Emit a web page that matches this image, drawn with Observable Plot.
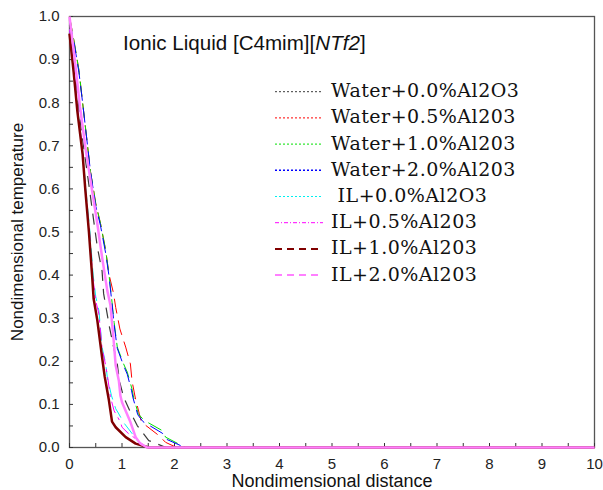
<!DOCTYPE html>
<html><head><meta charset="utf-8">
<script src="https://cdn.jsdelivr.net/npm/d3@7"></script>
<script src="https://cdn.jsdelivr.net/npm/@observablehq/plot@0.6"></script>
<style>
body{margin:0;background:#fff;}
#wrap{position:relative;width:603px;height:490px;}
#wrap svg{display:block;}
</style>
</head><body>
<div id="wrap"></div>
<script>
const seriesNames = ["Water+0.0%Al2O3","Water+0.5%Al203","Water+1.0%Al203","Water+2.0%Al203"," IL+0.0%Al2O3","IL+0.5%Al203","IL+1.0%Al203","IL+2.0%Al203"];

const water00X = [0, 0.08, 0.15, 0.22, 0.3, 0.38, 0.46, 0.53, 0.57, 0.62, 0.65, 0.76, 0.84, 0.91, 0.95, 1.03, 1.16, 1.29, 1.51, 1.84, 10];
const water00Y = [0.98, 0.9, 0.82, 0.74, 0.67, 0.6, 0.527, 0.465, 0.44, 0.41, 0.357, 0.28, 0.233, 0.194, 0.155, 0.117, 0.082, 0.051, 0.016, 0, 0];

const water05X = [0, 0.09, 0.18, 0.25, 0.4, 0.5, 0.59, 0.69, 0.75, 0.84, 0.88, 0.96, 1.07, 1.16, 1.19, 1.25, 1.33, 1.37, 1.7, 1.83, 2.04, 10];
const water05Y = [1.0, 0.94, 0.875, 0.8, 0.64, 0.566, 0.52, 0.457, 0.403, 0.357, 0.325, 0.275, 0.233, 0.194, 0.155, 0.117, 0.078, 0.059, 0.028, 0.012, 0, 0];

const water10X = [0, 0.09, 0.18, 0.25, 0.4, 0.5, 0.59, 0.69, 0.75, 0.8, 0.85, 0.91, 1.03, 1.1, 1.19, 1.22, 1.31, 1.42, 1.77, 1.83, 2.21, 10];
const water10Y = [1.0, 0.94, 0.875, 0.8, 0.64, 0.566, 0.52, 0.457, 0.403, 0.349, 0.29, 0.233, 0.194, 0.175, 0.136, 0.117, 0.078, 0.063, 0.039, 0.024, 0, 0];

const water20X = [0, 0.09, 0.18, 0.25, 0.4, 0.5, 0.59, 0.69, 0.75, 0.8, 0.85, 0.91, 1.03, 1.1, 1.18, 1.21, 1.3, 1.4, 1.77, 1.83, 2.2, 10];
const water20Y = [0.99, 0.937, 0.87, 0.8, 0.64, 0.56, 0.515, 0.45, 0.4, 0.345, 0.285, 0.23, 0.19, 0.17, 0.133, 0.115, 0.076, 0.06, 0.033, 0.02, 0, 0];

const il00X = [0, 0.08, 0.15, 0.25, 0.31, 0.39, 0.45, 0.5, 0.56, 0.62, 0.69, 0.72, 0.8, 0.88, 0.93, 1.03, 1.22, 1.3, 1.45, 10];
const il00Y = [0.97, 0.88, 0.79, 0.69, 0.6, 0.5, 0.4, 0.35, 0.318, 0.233, 0.194, 0.163, 0.12, 0.09, 0.08, 0.058, 0.028, 0.015, 0, 0];

const il05X = [0, 0.08, 0.15, 0.25, 0.3, 0.38, 0.44, 0.5, 0.56, 0.62, 0.69, 0.73, 0.78, 0.85, 0.97, 1.0, 1.16, 1.22, 1.42, 1.5, 10];
const il05Y = [0.97, 0.88, 0.79, 0.69, 0.6, 0.5, 0.4, 0.34, 0.31, 0.23, 0.19, 0.16, 0.117, 0.085, 0.059, 0.047, 0.028, 0.024, 0.005, 0, 0];

const il10X = [0, 0.08, 0.15, 0.25, 0.3, 0.37, 0.43, 0.46, 0.53, 0.62, 0.67, 0.75, 0.81, 0.88, 1.07, 1.26, 1.51, 10];
const il10Y = [0.96, 0.87, 0.78, 0.68, 0.6, 0.5, 0.4, 0.345, 0.295, 0.21, 0.165, 0.11, 0.06, 0.047, 0.024, 0.009, 0, 0];

const il20X = [0, 0.1, 0.2, 0.31, 0.43, 0.53, 0.62, 0.72, 0.78, 0.84, 0.88, 0.94, 0.97, 1.0, 1.16, 1.26, 1.35, 1.48, 10];
const il20Y = [1.0, 0.9, 0.79, 0.69, 0.596, 0.519, 0.442, 0.364, 0.33, 0.25, 0.19, 0.155, 0.12, 0.105, 0.059, 0.024, 0.009, 0, 0];

const xTicks = [0, 1, 2, 3, 4, 5, 6, 7, 8, 9, 10];
const yTicks = [0, 0.1, 0.2, 0.3, 0.4, 0.5, 0.6, 0.7, 0.8, 0.9, 1.0];
const xTickMarks = [0, 0.5, 1, 1.5, 2, 2.5, 3, 3.5, 4, 4.5, 5, 5.5, 6, 6.5, 7, 7.5, 8, 8.5, 9, 9.5, 10];
const yTickMarks = [0, 0.05, 0.1, 0.15, 0.2, 0.25, 0.3, 0.35, 0.4, 0.45, 0.5, 0.55, 0.6, 0.65, 0.7, 0.75, 0.8, 0.85, 0.9, 0.95, 1.0];

const titleMain = "Ionic Liquid [C4mim][";
const titleItalic = "NTf2";
const titleEnd = "]";
const xLabel = "Nondimensional distance";
const yLabel = "Nondimensional temperature";

const seriesX = [water00X, water05X, water10X, water20X, il00X, il05X, il10X, il20X];
const seriesY = [water00Y, water05Y, water10Y, water20Y, il00Y, il05Y, il10Y, il20Y];

const colors = ["#3a3a3a", "#ff0000", "#00e000", "#0000ff", "#00f0f0", "#ff00ff", "#800000", "#ff80ff"];
const plotDash = ["11,8", "15,7", "15,7", "15,7", "13,7", "12,5,3,5", null, null];
const plotWidth = [1.2, 1, 1, 1, 1, 1, 2.5, 2.5];
const legendDash = ["2,2", "2,2", "2,2", "2,2", "2,2", "4,2,1,2", "7,5", "7,5"];
const legendWidth = [1, 1, 1, 1.6, 1, 1, 2, 2];

const W = 603, H = 490, mL = 69, mR = 9, mT = 16, mB = 43;
const innerW = W - mL - mR, innerH = H - mT - mB;
const sans = "Liberation Sans, Arial, sans-serif";

const tables = seriesNames.map((name, i) => seriesX[i].map((x, j) => ({series: name, x, y: seriesY[i][j]})));

const chart = Plot.plot({
  width: W, height: H,
  marginLeft: mL, marginRight: mR, marginTop: mT, marginBottom: mB,
  style: {fontFamily: sans, color: "#222", background: "#fff"},
  x: {domain: [0, 10]},
  y: {domain: [0, 1]},
  marks: [
    Plot.frame({stroke: "#555", strokeWidth: 1.3}),
    Plot.tickY(yTickMarks, {y: d => d, insetRight: innerW - 4, stroke: "#333"}),
    Plot.tickX(xTickMarks, {x: d => d, insetTop: innerH - 4, stroke: "#333"}),
    Plot.axisY({ticks: yTicks, tickSize: 0, tickPadding: 10, tickFormat: d3.format(".1f"), fontSize: 15, label: null}),
    Plot.axisX({ticks: xTicks, tickSize: 0, tickPadding: 11, tickFormat: d3.format("d"), fontSize: 15, label: null}),
    ...tables.map((t, i) => Plot.line(t, {
      x: "x", y: "y", stroke: colors[i], strokeWidth: plotWidth[i],
      strokeDasharray: plotDash[i] || undefined, strokeLinecap: "butt"
    })),
    Plot.text([yLabel], {text: d => d, frameAnchor: "left", textAnchor: "middle", lineAnchor: "middle", dx: -52, rotate: -90, fontSize: 17, fill: "#111"}),
    Plot.text([xLabel], {text: d => d, frameAnchor: "bottom", textAnchor: "middle", lineAnchor: "middle", dy: 34, fontSize: 18, fill: "#111"})
  ]
});
document.getElementById("wrap").appendChild(chart);

const ov = d3.select("#wrap").append("svg")
  .attr("width", W).attr("height", H)
  .style("position", "absolute").style("left", "0px").style("top", "0px")
  .style("pointer-events", "none");

const title = ov.append("text").attr("x", 123).attr("y", 50)
  .style("font-family", sans).style("font-size", "20.6px").attr("fill", "#111");
title.append("tspan").text(titleMain);
title.append("tspan").style("font-style", "italic").text(titleItalic);
title.append("tspan").text(titleEnd);

seriesNames.forEach((name, i) => {
  const y = 91.7 + i * 26.2;
  ov.append("line").attr("x1", 275).attr("x2", 323).attr("y1", y).attr("y2", y)
    .attr("stroke", colors[i]).attr("stroke-width", legendWidth[i])
    .attr("stroke-dasharray", legendDash[i]);
  ov.append("text").attr("x", 331).attr("y", y + 5.5)
    .style("font-family", "DejaVu Serif, serif").style("font-size", "19px")
    .style("letter-spacing", "0.5px")
    .style("white-space", "pre").attr("fill", "#111").text(name);
});
</script>
</body></html>
